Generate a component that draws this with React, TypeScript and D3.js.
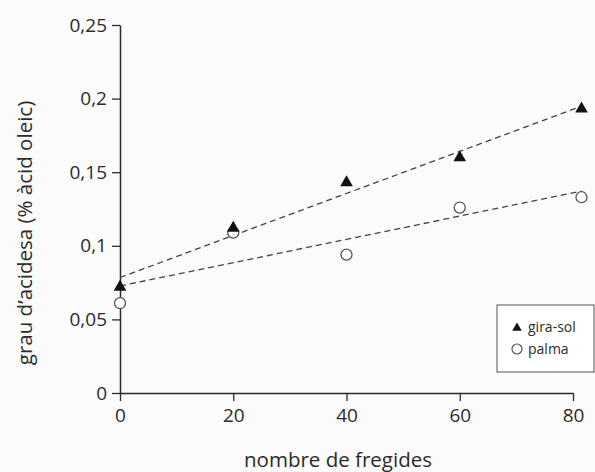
import React, { useEffect, useRef } from 'react';
import * as d3 from 'd3';

// fregides (x) and acidity values
const fregides = [0, 20, 40, 60, 81.5];
const giraSol = [0.072, 0.112, 0.143, 0.16, 0.193];
const palma = [0.061, 0.109, 0.094, 0.126, 0.133];
const xTicks = [0, 20, 40, 60, 80];
const yTicks = [0, 0.05, 0.1, 0.15, 0.2, 0.25];

const fmt = (v: number) => (v === 0 ? '0' : String(+v.toFixed(2)).replace('.', ','));

// least squares fit for the dashed trend lines
const fit = (xs: number[], ys: number[]) => {
    const mx = d3.mean(xs) || 0;
    const my = d3.mean(ys) || 0;
    let num = 0;
    let den = 0;
    xs.forEach((x, i) => {
        num += (x - mx) * (ys[i] - my);
        den += (x - mx) * (x - mx);
    });
    const slope = num / den;
    return { slope, intercept: my - slope * mx };
};

const App: React.FC = () => {
    const svgRef = useRef<SVGSVGElement | null>(null);

    useEffect(() => {
        const svg = d3.select(svgRef.current);
        svg.selectAll('*').remove();

        const width = 595;
        const height = 472;
        const font = '"Open Sans", "Noto Sans", sans-serif';
        const ink = '#2b2b2b';

        svg.attr('width', width).attr('height', height);
        svg.append('rect').attr('width', width).attr('height', height).attr('fill', '#fbfbfb');

        const x = d3.scaleLinear().domain([0, 80]).range([120, 573]);
        const y = d3.scaleLinear().domain([0, 0.25]).range([393, 25]);

        // axes
        const yAxis = svg.append('g')
            .attr('transform', `translate(${x(0)},0)`)
            .call(d3.axisLeft(y).tickValues(yTicks).tickFormat(d => fmt(+d)).tickSize(8).tickPadding(5).tickSizeOuter(0));
        const xAxis = svg.append('g')
            .attr('transform', `translate(0,${y(0)})`)
            .call(d3.axisBottom(x).tickValues(xTicks).tickFormat(d => String(d)).tickSize(8).tickPadding(8).tickSizeOuter(0));

        [yAxis, xAxis].forEach(g => {
            g.select('.domain').attr('stroke', ink).attr('stroke-width', 1.5);
            g.selectAll('.tick line').attr('stroke', ink).attr('stroke-width', 1.3);
            g.selectAll('.tick text')
                .attr('fill', ink)
                .style('font-family', font)
                .style('font-size', '19px');
        });

        // trend lines
        const series = [
            { name: 'gira-sol', values: giraSol },
            { name: 'palma', values: palma },
        ];
        series.forEach(s => {
            const { slope, intercept } = fit(fregides, s.values);
            const x0 = 0;
            const x1 = d3.max(fregides) || 80;
            svg.append('line')
                .attr('x1', x(x0))
                .attr('y1', y(intercept + slope * x0))
                .attr('x2', x(x1))
                .attr('y2', y(intercept + slope * x1))
                .attr('stroke', '#444')
                .attr('stroke-width', 1.3)
                .attr('stroke-dasharray', '6,4');
        });

        const tri = d3.symbol().type(d3.symbolTriangle).size(70);

        // palma points
        svg.selectAll('.palma')
            .data(palma)
            .enter().append('circle')
            .attr('class', 'palma')
            .attr('cx', (d, i) => x(fregides[i]))
            .attr('cy', d => y(d))
            .attr('r', 5.5)
            .attr('fill', '#fff')
            .attr('stroke', '#555')
            .attr('stroke-width', 1.3);

        // gira-sol points
        svg.selectAll('.girasol')
            .data(giraSol)
            .enter().append('path')
            .attr('class', 'girasol')
            .attr('d', tri)
            .attr('transform', (d, i) => `translate(${x(fregides[i])},${y(d)})`)
            .attr('fill', '#111');

        // legend
        const legend = svg.append('g').attr('transform', 'translate(497,305)');
        legend.append('rect')
            .attr('width', 97)
            .attr('height', 67)
            .attr('fill', '#fff')
            .attr('stroke', '#555')
            .attr('stroke-width', 1);
        legend.append('path')
            .attr('d', d3.symbol().type(d3.symbolTriangle).size(40)())
            .attr('transform', 'translate(20,23)')
            .attr('fill', '#111');
        legend.append('circle')
            .attr('cx', 20).attr('cy', 44).attr('r', 5)
            .attr('fill', '#fff').attr('stroke', '#555').attr('stroke-width', 1.2);
        legend.selectAll('.lbl')
            .data(series)
            .enter().append('text')
            .attr('x', 31)
            .attr('y', (d, i) => 27 + i * 22)
            .attr('fill', ink)
            .style('font-family', font)
            .style('font-size', '14px')
            .text(d => d.name);

        // axis titles
        svg.append('text')
            .attr('x', 338)
            .attr('y', 467)
            .attr('text-anchor', 'middle')
            .attr('fill', ink)
            .style('font-family', font)
            .style('font-size', '20.5px')
            .text('nombre de fregides');
        svg.append('text')
            .attr('transform', 'translate(32,233) rotate(-90)')
            .attr('text-anchor', 'middle')
            .attr('fill', ink)
            .style('font-family', font)
            .style('font-size', '20.5px')
            .text('grau d\u2019acidesa (% àcid oleic)');
    }, []);

    return <svg ref={svgRef} style={{ position: 'absolute', left: 0, top: 0 }}></svg>;
};

export default App;
